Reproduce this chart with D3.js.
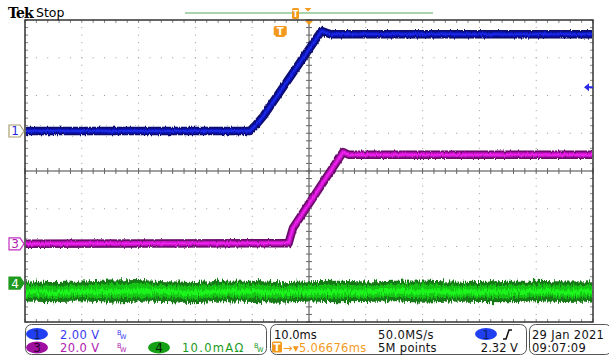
<!DOCTYPE html>
<html>
<head>
<meta charset="utf-8">
<script src="https://cdn.jsdelivr.net/npm/d3@7"></script>
<style>
  body { margin: 0; background: #fff; }
  svg { display: block; }
  text { font-family: "DejaVu Sans", sans-serif; }
</style>
</head>
<body>
<div id="scope"></div>
<script>
// channel 1 (2.00 V/div), time in ms
const ch1Time = [-50, -10.4, -9.4, -8, 2.2, 2.9, 3.8, 50];
const ch1Volt = [0, 0, 0.3, 0.8, 5.3, 5.22, 5.12, 5.12];

// channel 3 (20.0 V/div)
const ch3Time = [-50, -3.6, -3.2, -2.8, 6.0, 7.0, 50];
const ch3Volt = [0, 0.3, 4.5, 8.5, 48.6, 47.2, 47.2];

// channel 4 current (10.0 mA/div), noisy envelope
const ch4Time = [-50, -45, -40, -35, -30, -25, -20, -15, -10, -5, 0, 5, 10, 15, 20, 25, 30, 35, 40, 45, 50];
const ch4Hi = [0.5, 0.3, 0.4, 0.7, 0.8, 0.5, 0.3, 0.7, 0.6, 0.2, 0.5, 0.6, 0.4, 0.6, 0.7, 0.4, 0.3, 0.6, 0.6, 0.4, 0.5];
const ch4Lo = [-4.9, -5.1, -4.8, -5.2, -4.9, -5.0, -5.3, -4.8, -5.0, -5.2, -4.9, -5.1, -5.0, -4.8, -5.2, -4.9, -5.0, -5.1, -4.8, -5.0, -4.9];

const timeDomain = [-50, 50]; // 10 ms/div
const divDomain = [-4, 4];

const W = 609, H = 356;
const plot = { left: 25, right: 593, top: 20, bottom: 322 };

const svg = d3.select("#scope").append("svg")
  .attr("width", W).attr("height", H);

const x = d3.scaleLinear().domain(timeDomain).range([plot.left, plot.right]);
const yDiv = d3.scaleLinear().domain(divDomain).range([plot.bottom, plot.top]);

// per channel: volts/div and position offset in divisions
const chans = {
  c1: { perDiv: 2, offset: 1.06 },
  c3: { perDiv: 20, offset: -1.93 },
  c4: { perDiv: 10, offset: -2.97 },
};
const yOf = (ch, v) => yDiv(chans[ch].offset + v / chans[ch].perDiv);

// filters for trace noise
const defs = svg.append("defs");
function noiseFilter(id, freq, scale) {
  const f = defs.append("filter").attr("id", id)
    .attr("filterUnits", "userSpaceOnUse")
    .attr("x", 0).attr("y", 0).attr("width", W).attr("height", H);
  f.append("feTurbulence").attr("type", "fractalNoise")
    .attr("baseFrequency", freq).attr("numOctaves", 2).attr("seed", 3).attr("result", "n");
  f.append("feColorMatrix").attr("in", "n").attr("type", "matrix")
    .attr("values", "1 0 0 0 0  0 0 0 0 0.5  0 0 0 0 0  0 0 0 0 1").attr("result", "m");
  f.append("feDisplacementMap").attr("in", "SourceGraphic").attr("in2", "m")
    .attr("scale", scale).attr("xChannelSelector", "G").attr("yChannelSelector", "R");
}
noiseFilter("jitGreen", "1.2 0.08", 9);
noiseFilter("jitSmall", "1.3 0.1", 3);

// ---- graticule ----
const grid = svg.append("g");
const vDivs = d3.range(1, 10).filter(k => k !== 5);
const hDivs = d3.range(1, 8).filter(k => k !== 4);
const ySubs = d3.range(-4, 4.001, 0.2);
const xSubs = d3.range(-50, 50.001, 2);

vDivs.forEach(k => {
  const xx = x(-50 + k * 10);
  grid.selectAll(null).data(ySubs.slice(1, -1)).enter().append("rect")
    .attr("x", xx - 0.5).attr("y", d => yDiv(d) - 0.5)
    .attr("width", 1).attr("height", 1).attr("fill", "#9a9a9a");
});
hDivs.forEach(k => {
  const yy = yDiv(-4 + k);
  grid.selectAll(null).data(xSubs.slice(1, -1)).enter().append("rect")
    .attr("x", d => x(d) - 0.5).attr("y", yy - 0.5)
    .attr("width", 1).attr("height", 1).attr("fill", "#9a9a9a");
});

// center cross with ticks
grid.append("line").attr("x1", plot.left).attr("x2", plot.right)
  .attr("y1", yDiv(0)).attr("y2", yDiv(0)).attr("stroke", "#444");
grid.append("line").attr("x1", x(0)).attr("x2", x(0))
  .attr("y1", plot.top).attr("y2", plot.bottom).attr("stroke", "#444");
grid.selectAll(null).data(xSubs).enter().append("line")
  .attr("x1", d => x(d)).attr("x2", d => x(d))
  .attr("y1", yDiv(0) - 3).attr("y2", yDiv(0) + 3).attr("stroke", "#666");
grid.selectAll(null).data(ySubs).enter().append("line")
  .attr("x1", x(0) - 3).attr("x2", x(0) + 3)
  .attr("y1", d => yDiv(d)).attr("y2", d => yDiv(d)).attr("stroke", "#666");

// border ticks
grid.selectAll(null).data(xSubs).enter().append("line")
  .attr("x1", d => x(d)).attr("x2", d => x(d))
  .attr("y1", plot.top).attr("y2", plot.top + 3).attr("stroke", "#888");
grid.selectAll(null).data(xSubs).enter().append("line")
  .attr("x1", d => x(d)).attr("x2", d => x(d))
  .attr("y1", plot.bottom - 3).attr("y2", plot.bottom).attr("stroke", "#888");
grid.selectAll(null).data(ySubs).enter().append("line")
  .attr("x1", plot.left).attr("x2", plot.left + 3)
  .attr("y1", d => yDiv(d)).attr("y2", d => yDiv(d)).attr("stroke", "#888");
grid.selectAll(null).data(ySubs).enter().append("line")
  .attr("x1", plot.right - 3).attr("x2", plot.right)
  .attr("y1", d => yDiv(d)).attr("y2", d => yDiv(d)).attr("stroke", "#888");

grid.append("rect").attr("x", plot.left).attr("y", plot.top)
  .attr("width", plot.right - plot.left).attr("height", plot.bottom - plot.top)
  .attr("fill", "none").attr("stroke", "#333").attr("stroke-width", 1.5);

// ---- traces ----
const traces = svg.append("g");
const clip = defs.append("clipPath").attr("id", "plotClip");
clip.append("rect").attr("x", plot.left + 1).attr("y", plot.top)
  .attr("width", plot.right - plot.left - 2).attr("height", plot.bottom - plot.top);
traces.attr("clip-path", "url(#plotClip)");

// ch4 green band
const g4 = traces.append("g").attr("filter", "url(#jitGreen)");
const ch4Rows = ch4Time.map((t, i) => ({ t, hi: ch4Hi[i], lo: ch4Lo[i] }));
g4.append("path").datum(ch4Rows)
  .attr("d", d3.area().x(d => x(d.t)).y0(d => yOf("c4", d.lo)).y1(d => yOf("c4", d.hi)))
  .attr("fill", "#177a17");
g4.append("path").datum(ch4Rows)
  .attr("d", d3.area().x(d => x(d.t))
    .y0(d => yOf("c4", d.lo + 1.1)).y1(d => yOf("c4", d.hi - 1.0)))
  .attr("fill", "#16c416");
g4.append("path").datum(ch4Rows)
  .attr("d", d3.area().x(d => x(d.t))
    .y0(d => yOf("c4", (d.lo + d.hi) / 2 - 0.7)).y1(d => yOf("c4", (d.lo + d.hi) / 2 + 0.6)))
  .attr("fill", "#1af51a");

function drawTrace(ch, times, vals, dark, mid, bright) {
  const pts = times.map((t, i) => [x(t), yOf(ch, vals[i])]);
  const line = d3.line().curve(d3.curveLinear);
  const g = traces.append("g").attr("filter", "url(#jitSmall)");
  g.append("path").attr("d", line(pts)).attr("fill", "none")
    .attr("stroke", dark).attr("stroke-width", 8.5).attr("stroke-linejoin", "round");
  g.append("path").attr("d", line(pts)).attr("fill", "none")
    .attr("stroke", mid).attr("stroke-width", 5).attr("stroke-linejoin", "round");
  g.append("path").attr("d", line(pts)).attr("fill", "none")
    .attr("stroke", bright).attr("stroke-width", 2).attr("stroke-linejoin", "round");
}
drawTrace("c3", ch3Time, ch3Volt, "#6a0a6a", "#c012c0", "#f020f0");
drawTrace("c1", ch1Time, ch1Volt, "#0a0a6e", "#0a12b8", "#1a2ae6");

// ---- markers ----
const mk = svg.append("g");
function chanMarker(ch, label, fill, stroke, txt) {
  const yy = yOf(ch, 0);
  mk.append("path")
    .attr("d", `M9,${yy - 6} h11 l4,6 l-4,6 h-11 z`)
    .attr("fill", fill).attr("stroke", stroke).attr("stroke-width", 1.2);
  mk.append("text").attr("x", 15).attr("y", yy + 4.5).attr("text-anchor", "middle")
    .attr("font-size", 12).attr("fill", txt).text(label);
}
chanMarker("c1", "1", "#fff", "#a8a070", "#2a2ad8");
chanMarker("c3", "3", "#fff", "#c030c0", "#b020b0");
chanMarker("c4", "4", "#1f9a1f", "#1f9a1f", "#fff");

// trigger level arrow on right (2.32 V)
const trigY = yOf("c1", 2.32);
mk.append("path")
  .attr("d", `M584,${trigY} l5,-4 v3 h4 v2 h-4 v3 z`).attr("fill", "#2a2ae6");

// trigger position T and expansion point
const orange = "#f39a1e";
const trigX = x(-5.06676);
mk.append("path")
  .attr("d", `M${trigX - 5},26 h10 a1.5,1.5 0 0 1 1.5,1.5 v7 l-3,2.5 h-7 l-3,-2.5 v-7 a1.5,1.5 0 0 1 1.5,-1.5 z`)
  .attr("fill", orange);
mk.append("text").attr("x", trigX).attr("y", 35).attr("text-anchor", "middle")
  .attr("font-size", 10).attr("font-weight", "bold").attr("fill", "#fff").text("T");
mk.append("path").attr("d", `M${x(0) - 4},21 h8 l-4,4 z`).attr("fill", orange);

// ---- top bar ----
const topBar = svg.append("g");
topBar.append("text").attr("x", 8).attr("y", 17.5)
  .style("font-family", "'DejaVu Serif', serif").attr("font-weight", "bold")
  .attr("font-size", 14).attr("letter-spacing", -0.8).text("Tek");
topBar.append("text").attr("x", 36).attr("y", 17).attr("font-size", 12.5).text("Stop");
topBar.append("line").attr("x1", 185).attr("x2", 433).attr("y1", 13).attr("y2", 13)
  .attr("stroke", "#5aaa5a").attr("stroke-width", 1.2);
topBar.append("rect").attr("x", 292).attr("y", 8).attr("width", 7).attr("height", 11)
  .attr("rx", 1.5).attr("fill", orange);
topBar.append("text").attr("x", 295.5).attr("y", 17).attr("text-anchor", "middle")
  .attr("font-size", 8).attr("font-weight", "bold").attr("fill", "#fff").text("T");
topBar.append("path").attr("d", "M304.5,8 h7 l-3.5,3.5 z").attr("fill", orange);

// ---- bottom readouts ----
const info = svg.append("g");
const boxes = [[25, 267], [270, 527], [529, 612]];
boxes.forEach(([a, b]) => {
  info.append("rect").attr("x", a + 0.5).attr("y", 324.5).attr("width", b - a - 1).attr("height", 30)
    .attr("rx", 6).attr("fill", "#fff").attr("stroke", "#555").attr("stroke-width", 1);
});
const r1 = 338.5, r2 = 352;
function badge(cx, cy, fill, label, col) {
  info.append("ellipse").attr("cx", cx).attr("cy", cy).attr("rx", 11).attr("ry", 6).attr("fill", fill);
  info.append("text").attr("x", cx).attr("y", cy + 4.5).attr("text-anchor", "middle")
    .attr("font-size", 12).attr("fill", col).text(label);
}
function txt(xx, yy, s, col, anchor, spacing) {
  info.append("text").attr("x", xx).attr("y", yy).attr("font-size", 11.5)
    .attr("letter-spacing", spacing || 0)
    .attr("fill", col).attr("text-anchor", anchor || "start").text(s);
}
function bwIcon(xx, yy, col) {
  info.append("text").attr("x", xx).attr("y", yy - 4).attr("font-size", 6.5).attr("fill", col).text("B");
  info.append("text").attr("x", xx + 3).attr("y", yy).attr("font-size", 6.5).attr("fill", col).text("W");
}
const blue = "#3a3af0", mag = "#b020b0", grn = "#1a9a1a";
badge(37, 334, "#1f3ff0", "1", "#102060");
txt(60, r1, "2.00 V", blue, "start", 0.4);
bwIcon(117, r1, blue);
badge(37, 347.5, "#a010a0", "3", "#300030");
txt(60, r2, "20.0 V", mag, "start", 0.4);
bwIcon(117, r2, mag);
badge(159, 347.5, "#16a016", "4", "#042004");
txt(182, r2, "10.0mAΩ", grn, "start", 1.3);
bwIcon(254, r2, grn);

txt(274, r1, "10.0ms", "#111");
txt(378, r1, "50.0MS/s", "#111", "start", 0.4);
badge(486, 334, "#1f3ff0", "1", "#102060");
info.append("path").attr("d", "M503,339 h3 l3,-9 h3").attr("fill", "none")
  .attr("stroke", "#111").attr("stroke-width", 1.5);
info.append("rect").attr("x", 272).attr("y", 341.5).attr("width", 10).attr("height", 11)
  .attr("rx", 1.5).attr("fill", orange);
info.append("text").attr("x", 277).attr("y", 351).attr("text-anchor", "middle")
  .attr("font-size", 10).attr("font-weight", "bold").attr("fill", "#fff").text("T");
txt(283, r2, "→▾5.06676ms", orange, "start", 0.3);
txt(378, r2, "5M points", "#111", "start", 0.3);
txt(518, r2, "2.32 V", "#111", "end");

txt(532, r1, "29 Jan  2021", "#111", "start", 0.3);
txt(532, r2, "09:07:09", "#111", "start", 0.3);
</script>
</body>
</html>
